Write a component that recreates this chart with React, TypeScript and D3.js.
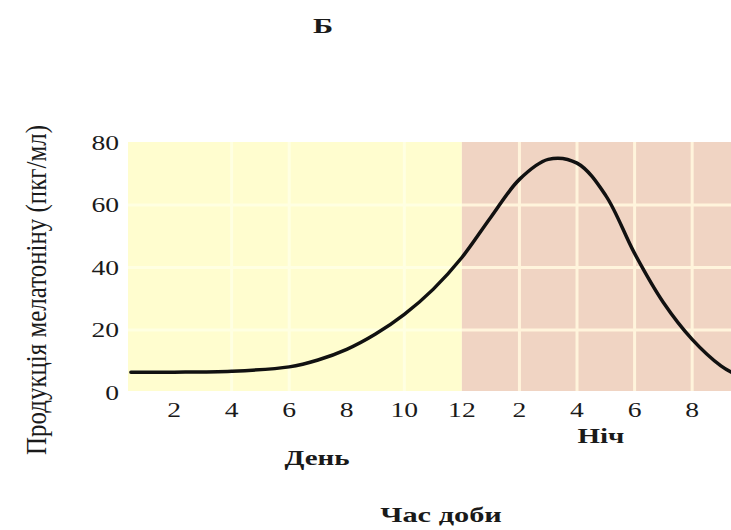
import React from "react";
import * as d3 from "d3";

const hours = [0.5, 2, 4, 6, 7, 8, 9, 10, 11, 12, 13, 14, 15, 16, 17, 18, 19, 20, 21, 21.4];
const melatonin = [6.5, 6.5, 6.8, 8.2, 10.4, 13.8, 18.7, 25, 33, 43.2, 56, 68.2, 74.6, 73.4, 63, 44.5, 28.8, 17, 8.5, 6.3];

const yTicks = [0, 20, 40, 60, 80];
const xTickHours = [2, 4, 6, 8, 10, 12, 14, 16, 18, 20];
const xTickLabels = ["2", "4", "6", "8", "10", "12", "2", "4", "6", "8"];
const nightGridHours = [14, 16, 18, 20];
const dayGridHours = [4, 6, 10];
const gridValues = [20, 40, 60];

const title = "Б";
const yLabel = "Продукція мелатоніну (пкг/мл)";
const xLabel = "Час доби";
const dayLabel = "День";
const nightLabel = "Ніч";

const W = 731;
const H = 530;
const SX = 1.38;
const FONT = "Liberation Serif, Times New Roman, DejaVu Serif, serif";

export default function App() {
  const x = d3.scaleLinear().domain([0.4, 21.35]).range([128, 731]);
  const y = d3.scaleLinear().domain([0, 80]).range([392.5, 142.5]);
  const plotTop = 142;
  const plotBottom = 391;
  const noon = x(12);

  const line = d3
    .line<number>()
    .x((_, i) => x(hours[i]))
    .y((d) => y(d))
    .curve(d3.curveCatmullRom.alpha(0.5));

  const stretched = (
    cx: number,
    cy: number,
    text: string,
    size: number,
    bold: boolean,
    anchor: "start" | "middle" | "end" = "middle",
    key?: string
  ) => (
    <g key={key} transform={`translate(${cx},${cy}) scale(${SX},1)`}>
      <text
        x={0}
        y={0}
        textAnchor={anchor}
        fontFamily={FONT}
        fontSize={size}
        fontWeight={bold ? "bold" : "normal"}
        fill="#1a1a1a"
      >
        {text}
      </text>
    </g>
  );

  return (
    <svg
      width={W}
      height={H}
      style={{ position: "absolute", left: 0, top: 0, background: "#ffffff" }}
    >
      <rect x={x(0.4)} y={plotTop} width={noon - x(0.4)} height={plotBottom - plotTop} fill="#FFFDCF" />
      <rect x={noon} y={plotTop} width={W - noon} height={plotBottom - plotTop} fill="#F0D4C3" />

      {gridValues.map((v) => (
        <line key={"dg" + v} x1={x(0.4)} x2={noon} y1={y(v)} y2={y(v)} stroke="#FFFFE2" strokeWidth={3} />
      ))}
      {dayGridHours.map((h) => (
        <line key={"dv" + h} x1={x(h)} x2={x(h)} y1={plotTop} y2={plotBottom} stroke="#FFFFE2" strokeWidth={3} />
      ))}

      {gridValues.map((v) => (
        <line key={"ng" + v} x1={noon} x2={W} y1={y(v)} y2={y(v)} stroke="#FFF4DC" strokeWidth={3} />
      ))}
      {nightGridHours.map((h) => (
        <line key={"nv" + h} x1={x(h)} x2={x(h)} y1={plotTop} y2={plotBottom} stroke="#FFF4DC" strokeWidth={3} />
      ))}

      <path d={line(melatonin) || ""} fill="none" stroke="#111" strokeWidth={3.5} strokeLinecap="round" />

      {yTicks.map((v) => stretched(119, y(v) + 7, String(v), 20, false, "end", "yt" + v))}

      {xTickHours.map((h, i) => stretched(x(h), 417, xTickLabels[i], 20, false, "middle", "xt" + i))}

      {stretched(323, 33, title, 22, true)}
      {stretched(317, 465, dayLabel, 21, true)}
      {stretched(601, 443, nightLabel, 21, true)}
      {stretched(441, 522, xLabel, 22, true)}

      <g transform={`translate(46,290) scale(${SX},1) rotate(-90)`}>
        <text
          x={0}
          y={0}
          textAnchor="middle"
          fontFamily={FONT}
          fontSize={21}
          fill="#1a1a1a"
          textLength={330}
          lengthAdjust="spacingAndGlyphs"
        >
          {yLabel}
        </text>
      </g>
    </svg>
  );
}
